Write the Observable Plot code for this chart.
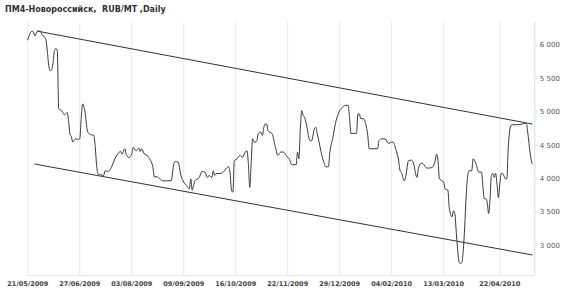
<!DOCTYPE html>
<html><head><meta charset="utf-8">
<script src="https://cdn.jsdelivr.net/npm/d3@7"></script>
<script src="https://cdn.jsdelivr.net/npm/@observablehq/plot@0.6"></script>
<style>
body{margin:0;background:#fff;}
#wrap{position:relative;width:570px;height:291px;overflow:hidden;}
#wrap svg{position:absolute;left:0;top:0;}
#title{position:absolute;left:5px;top:5px;font:bold 8px "DejaVu Sans",Verdana,sans-serif;color:#333;white-space:pre;z-index:2;}
</style></head><body>
<div id="wrap"><div id="title">ПМ4-Новороссийск,  RUB/MT ,Daily</div></div>
<script>
const title = "ПМ4-Новороссийск,  RUB/MT ,Daily";
const startDate = "2009-05-21";
// days since startDate
const dayOffsets = [
  0,2,3,4,5,7,9,10,12,13,
  14,15,16,17,18,19,20,21,22,24,
  25,26,28,29,30,31,32,34,35,37,
  38,39,40,41,42,43,45,47,48,49,
  50,52,54,55,57,59,61,62,64,66,
  67,69,70,72,74,75,77,79,80,81,
  83,85,86,89,90,92,94,96,99,102,
  104,105,107,109,111,113,115,116,117,118,
  119,122,124,126,128,129,131,132,133,134,
  137,140,141,143,144,145,146,147,149,151,
  153,154,156,157,158,159,160,161,162,163,
  164,166,167,168,169,170,171,174,176,178,
  180,182,183,185,186,188,191,192,193,194,
  195,196,197,199,200,201,202,204,205,206,
  208,209,211,212,214,215,217,219,220,222,
  224,226,228,229,230,234,235,236,237,239,
  240,242,243,245,249,250,252,255,256,257,
  259,260,262,264,265,266,268,269,271,273,
  275,276,277,278,280,281,283,284,285,288,
  290,291,292,293,295,296,297,299,300,302,
  303,304,305,306,307,308,309,310,311,312,
  313,314,316,317,318,319,321,323,324,325,
  326,327,328,329,330,331,332,333,334,335,
  336,337,338,340,341,342,344,345,348,352,
  354,355,356,358,359
];
const prices = [
  6080,6190,6210,6200,6140,6210,6210,6160,6120,6070,
  5890,5680,5620,5630,5740,5920,5950,5910,5050,5020,
  4990,4960,4990,4870,4670,4630,4550,4600,4590,4600,
  4900,5120,5070,4960,4770,4690,4660,4650,4480,4200,
  4070,4060,4050,4120,4110,4150,4250,4300,4370,4410,
  4370,4450,4370,4320,4370,4470,4420,4460,4410,4450,
  4370,4350,4320,4180,4030,4030,4000,3970,3970,3970,
  4230,4260,4250,4050,3950,3900,3850,4000,3830,3900,
  3970,4020,4110,4100,4020,4050,4020,4120,4050,4080,
  4080,4120,4150,4180,4080,3830,3800,4270,4300,4350,
  4320,4370,4420,4230,3870,4230,4600,4550,4550,4570,
  4670,4700,4650,4770,4820,4820,4720,4670,4500,4350,
  4400,4400,4380,4320,4300,4210,4210,4400,4300,4750,
  5020,4950,4920,4740,4620,4570,4570,4750,4770,4680,
  4480,4380,4230,4180,4180,4390,4600,4830,4910,5020,
  5070,5100,5100,4920,4680,4680,4970,4970,4900,4900,
  4860,4650,4450,4450,4450,4570,4600,4590,4540,4530,
  4550,4550,4440,4270,4120,4090,3970,4030,4270,4280,
  4200,4080,4020,4150,4230,4230,4180,4160,4160,4170,
  4270,4370,4270,4000,3970,3950,3850,3830,3570,3430,
  3520,3480,3200,2930,2750,2730,2750,2930,3280,3730,
  4020,4120,4120,4300,4270,4230,4100,4100,3870,3700,
  3700,3650,3480,3680,4050,4080,4020,4080,3920,3720,
  3920,4080,4080,4000,4000,4470,4800,4810,4810,4820,
  4830,4820,4670,4320,4230
];
// trend channel
const upperDays = [7, 359];
const upperValues = [6210, 4820];
const lowerDays = [5, 359];
const lowerValues = [4220, 2860];
// axes
const xTickLabels = ["21/05/2009","27/06/2009","03/08/2009","09/09/2009","16/10/2009","22/11/2009","29/12/2009","04/02/2010","13/03/2010","22/04/2010"];
const yTicks = [3000, 3500, 4000, 4500, 5000, 5500, 6000];

const DAY = 864e5;
const t0 = Date.parse(startDate + "T00:00:00Z");
const toDate = d => new Date(t0 + d * DAY);
const series = dayOffsets.map((d, i) => ({date: toDate(d), price: prices[i]}));
const upper = upperDays.map((d, i) => ({date: toDate(d), price: upperValues[i]}));
const lower = lowerDays.map((d, i) => ({date: toDate(d), price: lowerValues[i]}));
const parseTick = d3.utcParse("%d/%m/%Y");
const xTicks = xTickLabels.map(parseTick);
const fmtTick = d3.utcFormat("%d/%m/%Y");
const yFmt = d3.formatLocale({decimal: ".", thousands: " ", grouping: [3], currency: ["", ""]}).format(",");

const xDomain = [toDate(0), toDate(360.9)];
const yDomain = [2552, 6340];

const chart = Plot.plot({
  width: 570,
  height: 291,
  marginTop: 22,
  marginBottom: 16,
  marginLeft: 27.3,
  marginRight: 35.7,
  style: {fontFamily: "'DejaVu Sans', Verdana, sans-serif", background: "transparent"},
  x: {type: "utc", domain: xDomain},
  y: {domain: yDomain},
  marks: [
    Plot.gridX(xTicks, {stroke: "#e2ecf4", strokeOpacity: 1}),
    Plot.ruleY([yDomain[0]], {stroke: "#dbe7f1"}),
    Plot.ruleX([xDomain[1]], {stroke: "#d3e2ef"}),
    Plot.line(upper, {x: "date", y: "price", stroke: "#333", strokeWidth: 1}),
    Plot.line(lower, {x: "date", y: "price", stroke: "#333", strokeWidth: 1}),
    Plot.line(series, {x: "date", y: "price", stroke: "#3a3a3a", strokeWidth: 1, curve: "monotone-x"}),
    Plot.axisY(yTicks, {anchor: "right", label: null, tickSize: 2, tickPadding: 3, tickFormat: yFmt, fontSize: 7, stroke: "#c9dae8", fill: "#555"}),
    Plot.axisX(xTicks, {anchor: "bottom", label: null, tickSize: 0, tickPadding: 6, tickFormat: fmtTick, fontSize: 6.5, fontWeight: "bold", fill: "#444"})
  ]
});
document.getElementById("wrap").appendChild(chart);
</script>
</body></html>
